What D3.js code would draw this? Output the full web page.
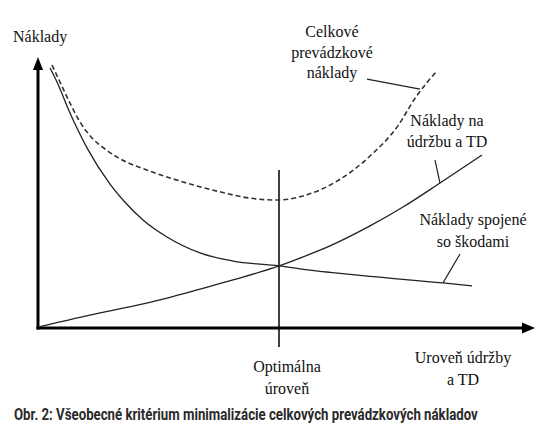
<!DOCTYPE html>
<meta charset="utf-8">
<script src="https://cdn.jsdelivr.net/npm/d3@7"></script>
<style>
body { margin: 0; background: #fff; }
text.caption {
  font-family: "Roboto", "DejaVu Sans", sans-serif;
  font-weight: bold;
  font-size: 16px;
  fill: #2a2a2a;
}
.curve { fill: none; stroke: #222; stroke-width: 1.3; }
.total { stroke: #333; stroke-width: 1.6; stroke-dasharray: 5,3; }
.axis-line { stroke: #000; stroke-width: 3; }
.leader { stroke: #222; stroke-width: 1.2; }
</style>
<body>
<div id="chart"></div>
<script>
// data (level of maintenance 0..100, costs 0..100)
var damageX   = [2.4, 3.8, 6.4, 9.8, 14.4, 17, 21, 25.8, 32.4, 39, 48.2, 52.4, 58.4, 66.4, 81, 86.8]
var damageY   = [96.3, 91.1, 79.6, 66.7, 53.3, 47.4, 40, 33.7, 27.8, 24.8, 23, 21.9, 20.6, 19.1, 16.7, 15.6]

var maintX    = [0.4, 12.4, 19, 25.8, 32.4, 39, 48.2, 52.4, 58.4, 66.4, 73, 80.4, 88.8]
var maintY    = [0.5, 5.6, 8.1, 11.1, 14.4, 17.8, 23, 25.9, 30.4, 37.8, 44.8, 53.7, 64.1]

var totalX    = [2.8, 4.4, 6.4, 8.4, 10.8, 13.4, 15.8, 22.4, 29, 35.8, 42.4, 47.8, 53, 59.8, 66.4, 71.8, 75.6, 79.8]
var totalY    = [97.4, 91.1, 83.3, 76.3, 70.4, 66.3, 63.3, 58.1, 54.1, 50.7, 48.1, 47.4, 48.9, 54.4, 63.7, 74.4, 85.6, 95.2]

var optimum = 48.2

var yTitle = "Náklady"
var xTitle = ["Uroveň údržby", "a TD"]
var optTitle = ["Optimálna", "úroveň"]
var caption = "Obr. 2: Všeobecné kritérium minimalizácie celkových prevádzkových nákladov"

var totalLabel = ["Celkové", "prevádzkové", "náklady"]
var maintLabel = ["Náklady na", "údržbu a TD"]
var damageLabel = ["Náklady spojené", "so škodami"]

//layout
var width = 553, height = 440
var serif = "'Liberation Serif', 'DejaVu Serif', serif"

var svg = d3.select("#chart").append("svg")
  .attr("width", width)
  .attr("height", height)

var x = d3.scaleLinear().domain([0, 100]).range([38, 538])
var y = d3.scaleLinear().domain([0, 100]).range([328, 58])

function zip(xs, ys) {
  return xs.map(function(d, i) { return [d, ys[i]] })
}

var line = d3.line()
  .x(function(d) { return x(d[0]) })
  .y(function(d) { return y(d[1]) })
  .curve(d3.curveMonotoneX)

// axes with arrow heads
var x0 = x(0), y0 = y(0)
var xEnd = 535, yEnd = 57
svg.append("line").attr("class", "axis-line")
  .attr("x1", x0 - 1.5).attr("y1", y0)
  .attr("x2", xEnd - 10).attr("y2", y0)
svg.append("path")
  .attr("d", "M" + xEnd + "," + y0 + "L" + (xEnd - 13) + "," + (y0 - 5.5) + "L" + (xEnd - 13) + "," + (y0 + 5.5) + "Z")
  .attr("fill", "#000")
svg.append("line").attr("class", "axis-line")
  .attr("x1", x0).attr("y1", y0 + 1.5)
  .attr("x2", x0).attr("y2", yEnd + 10)
svg.append("path")
  .attr("d", "M" + x0 + "," + yEnd + "L" + (x0 - 5) + "," + (yEnd + 13) + "L" + (x0 + 5) + "," + (yEnd + 13) + "Z")
  .attr("fill", "#000")

// optimum line
svg.append("line")
  .attr("x1", x(optimum)).attr("x2", x(optimum))
  .attr("y1", y(58.5)).attr("y2", y(-7))
  .attr("stroke", "#000").attr("stroke-width", 1.5)

// curves
svg.append("path").attr("class", "curve").attr("d", line(zip(damageX, damageY)))
svg.append("path").attr("class", "curve").attr("d", line(zip(maintX, maintY)))
svg.append("path").attr("class", "curve total").attr("d", line(zip(totalX, totalY)))

// leaders
var leaders = [
  [[65.8, 92.2], [76.4, 88.5]],
  [[79.4, 62.2], [80.4, 53.7]],
  [[84.4, 27.4], [81, 16.7]]
]
svg.selectAll(".leader").data(leaders).enter().append("line")
  .attr("class", "leader")
  .attr("x1", function(d) { return x(d[0][0]) })
  .attr("y1", function(d) { return y(d[0][1]) })
  .attr("x2", function(d) { return x(d[1][0]) })
  .attr("y2", function(d) { return y(d[1][1]) })

// text labels
function block(lines, cx, by, step) {
  svg.append("g").selectAll("text").data(lines).enter().append("text")
    .style("font-family", serif)
    .style("font-size", "16px")
    .attr("fill", "#111")
    .attr("text-anchor", "middle")
    .attr("x", cx)
    .attr("y", function(d, i) { return by + i * step })
    .text(function(d) { return d })
}
block(totalLabel, 332, 37, 20.5)
block(maintLabel, 447, 126, 21)
block(damageLabel, 473, 225, 22)
block(xTitle, 463, 363, 22)
block(optTitle, 287, 372, 22)

svg.append("text")
  .style("font-family", serif)
  .style("font-size", "16px")
  .attr("fill", "#111")
  .attr("x", 13).attr("y", 42)
  .text(yTitle)

// caption, squeezed horizontally to look condensed
var cap = svg.append("text").attr("class", "caption")
  .attr("x", 0).attr("y", 0)
  .text(caption)
var capLen = cap.node().getComputedTextLength()
cap.attr("transform", "translate(14,420) scale(" + (464 / capLen) + ",1)")
</script>
</body>
